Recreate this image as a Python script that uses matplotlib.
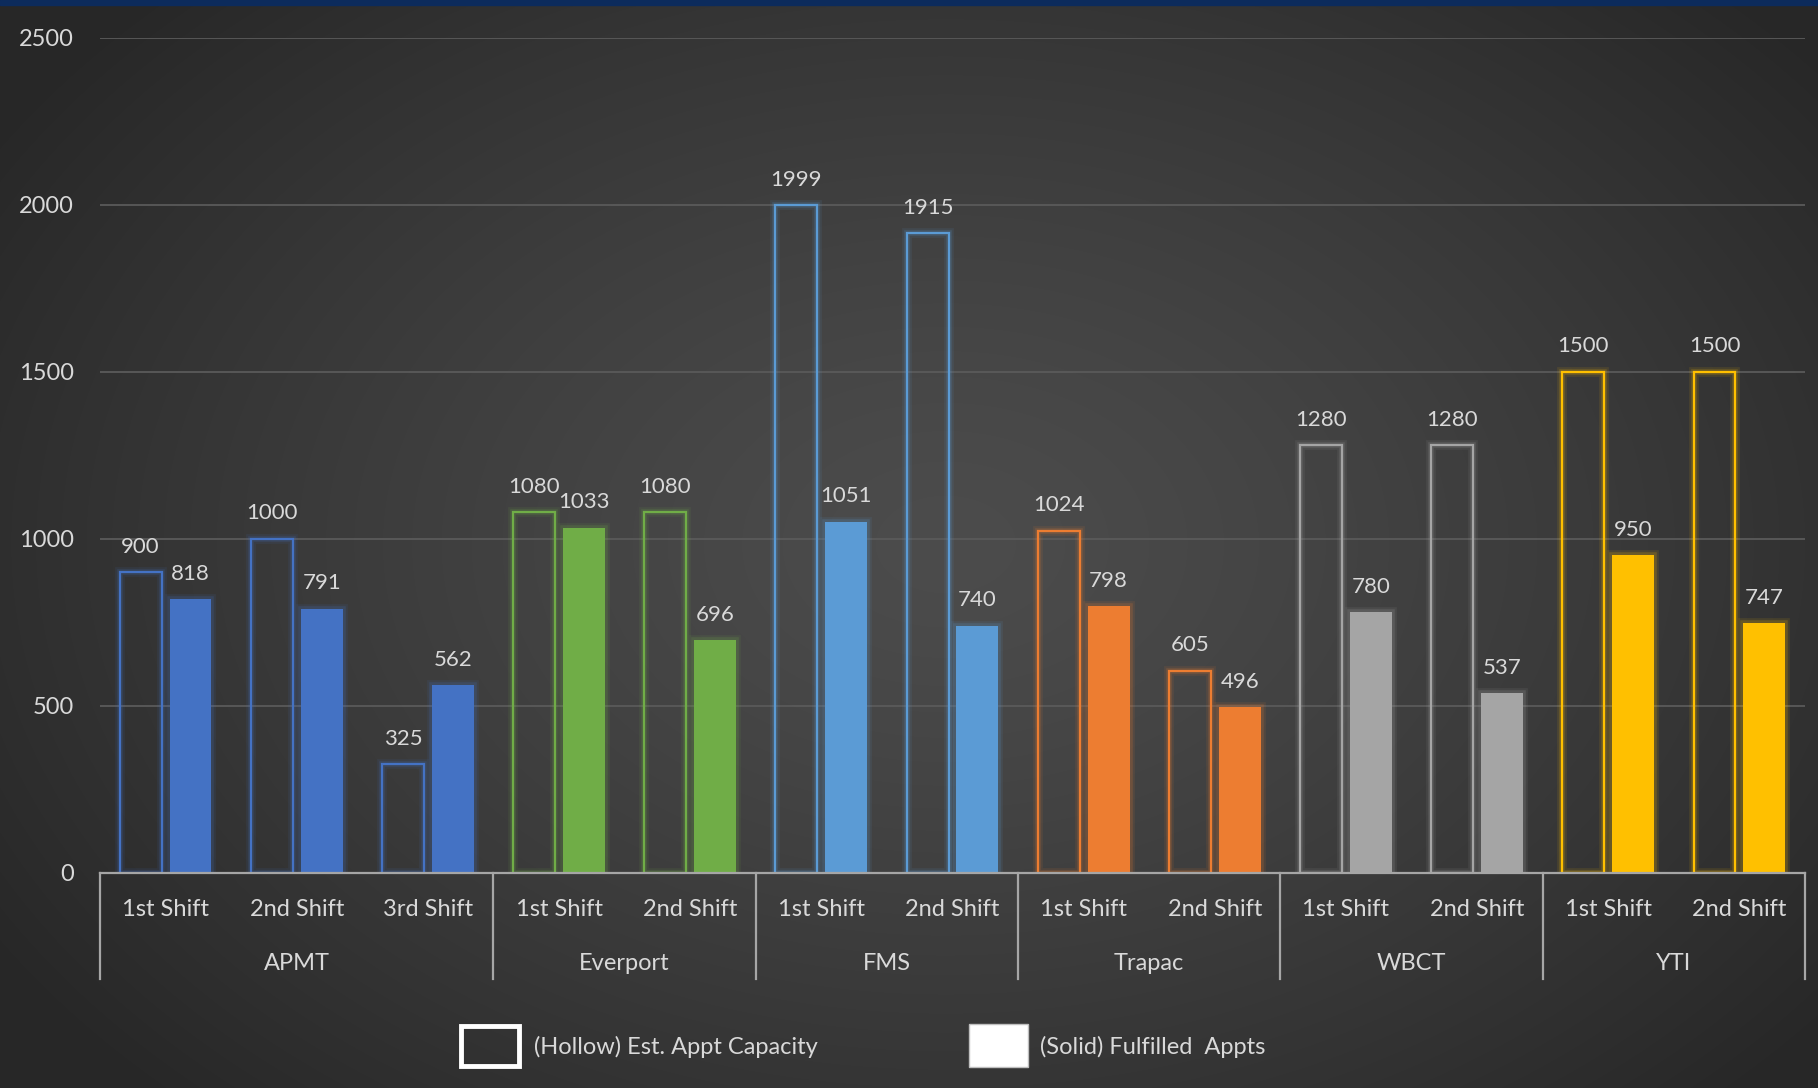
import numpy as np
import matplotlib
matplotlib.use("Agg")
import matplotlib.pyplot as plt
from matplotlib.patches import Rectangle
import matplotlib.patheffects as pe

# ---------------- data ----------------
terminals = ["APMT", "Everport", "FMS", "Trapac", "WBCT", "YTI"]
shifts_per_terminal = [3, 2, 2, 2, 2, 2]
shift_labels = ["1st Shift", "2nd Shift", "3rd Shift",
                "1st Shift", "2nd Shift",
                "1st Shift", "2nd Shift",
                "1st Shift", "2nd Shift",
                "1st Shift", "2nd Shift",
                "1st Shift", "2nd Shift"]
capacity = [900, 1000, 325, 1080, 1080, 1999, 1915, 1024, 605, 1280, 1280, 1500, 1500]
fulfilled = [818, 791, 562, 1033, 696, 1051, 740, 798, 496, 780, 537, 950, 747]
terminal_colors = ["#4472C4", "#70AD47", "#5B9BD5", "#ED7D31", "#A5A5A5", "#FFC000"]
yticks = [0, 500, 1000, 1500, 2000, 2500]
legend_labels = ["(Hollow) Est. Appt Capacity", "(Solid) Fulfilled  Appts"]

plt.rcParams["font.family"] = ["Lato", "DejaVu Sans"]
TXT = "#d9d9d9"

W, H = 1818, 1088
fig = plt.figure(figsize=(W / 100, H / 100), dpi=100)

# background gradient
bg = fig.add_axes([0, 0, 1, 1])
bg.axis("off")
yy, xx = np.mgrid[0:H, 0:W]
r = np.sqrt(((xx - 0.52 * W) / (0.62 * W)) ** 2 + ((yy - 0.5 * H) / (0.72 * H)) ** 2)
r = np.clip(r, 0, 1) ** 1.3
v = (0x4c / 255) * (1 - r) + (0x27 / 255) * r
bg.imshow(np.dstack([v, v, v]), extent=[0, 1, 0, 1], aspect="auto", origin="upper", zorder=0)
bg.set_xlim(0, 1)
bg.set_ylim(0, 1)
fig.patches.append(Rectangle((0, 1 - 5 / H), 1, 5 / H, transform=fig.transFigure,
                             color="#0c2b5c", zorder=5))

# main axes
ax = fig.add_axes([100 / W, (H - 872.7) / H, 1705 / W, 835 / H])
ax.patch.set_alpha(0)
n = len(capacity)
x = np.arange(n)
colors = []
for c, k in zip(terminal_colors, shifts_per_terminal):
    colors += [c] * k

ax.set_xlim(-0.5, n - 0.5)
ax.set_ylim(0, 2500)
ax.set_yticks(yticks)
ax.set_yticklabels([str(t) for t in yticks])
ax.tick_params(axis="y", length=0, pad=19, labelsize=17, labelcolor=TXT)
ax.set_xticks([])
for s in ["top", "right", "left"]:
    ax.spines[s].set_visible(False)
ax.spines["bottom"].set_color("#a6a6a6")
ax.spines["bottom"].set_linewidth(1.6)
ax.spines["bottom"].set_zorder(4)
ax.yaxis.grid(True, color="#5a5a5a", lw=1.3)
ax.set_axisbelow(True)

off, bw = 0.19, 0.32
for i in range(n):
    c = colors[i]
    glow = [pe.Stroke(linewidth=7, foreground=c, alpha=0.10),
            pe.Stroke(linewidth=4, foreground=c, alpha=0.18), pe.Normal()]
    b1 = ax.bar(x[i] - off, capacity[i], width=bw, facecolor="none", edgecolor=c,
                linewidth=1.6, zorder=3)
    b2 = ax.bar(x[i] + off, fulfilled[i], width=bw, color=c, zorder=3)
    for p in list(b1) + list(b2):
        p.set_path_effects(glow)
    ax.annotate(str(capacity[i]), (x[i] - off, capacity[i]), xytext=(0, 11),
                textcoords="offset points", ha="center", va="bottom",
                fontsize=16, color=TXT)
    ax.annotate(str(fulfilled[i]), (x[i] + off, fulfilled[i]), xytext=(0, 11),
                textcoords="offset points", ha="center", va="bottom",
                fontsize=16, color=TXT)

# multi-level category axis
tr = ax.get_xaxis_transform()
for i, lab in enumerate(shift_labels):
    ax.text(x[i], -0.0435, lab, transform=tr, ha="center", va="center",
            fontsize=17, color=TXT, clip_on=False)
start = 0
bounds = [-0.5]
for t, k in zip(terminals, shifts_per_terminal):
    center = start + (k - 1) / 2
    ax.text(center, -0.1093, t, transform=tr, ha="center", va="center",
            fontsize=17, color=TXT, clip_on=False)
    start += k
    bounds.append(start - 0.5)
for b in bounds:
    ax.plot([b, b], [0, -0.1277], transform=tr, clip_on=False,
            color="#a6a6a6", lw=1.6, zorder=4)

# legend (manual)
def fig_rect(x0, y0, x1, y1, **kw):
    return Rectangle((x0 / W, (H - y1) / H), (x1 - x0) / W, (y1 - y0) / H,
                     transform=fig.transFigure, **kw)

fig.patches.append(fig_rect(461, 1026, 519, 1066, facecolor="none",
                            edgecolor="white", lw=3.5, zorder=5))
fig.patches.append(fig_rect(969, 1024, 1028, 1067, facecolor="white",
                            edgecolor="#bfbfbf", lw=1, zorder=5))
fig.text(534 / W, (H - 1047) / H, legend_labels[0], ha="left", va="center",
         fontsize=17, color=TXT)
fig.text(1040 / W, (H - 1047) / H, legend_labels[1], ha="left", va="center",
         fontsize=17, color=TXT)

fig.savefig("out.png", dpi=100)
